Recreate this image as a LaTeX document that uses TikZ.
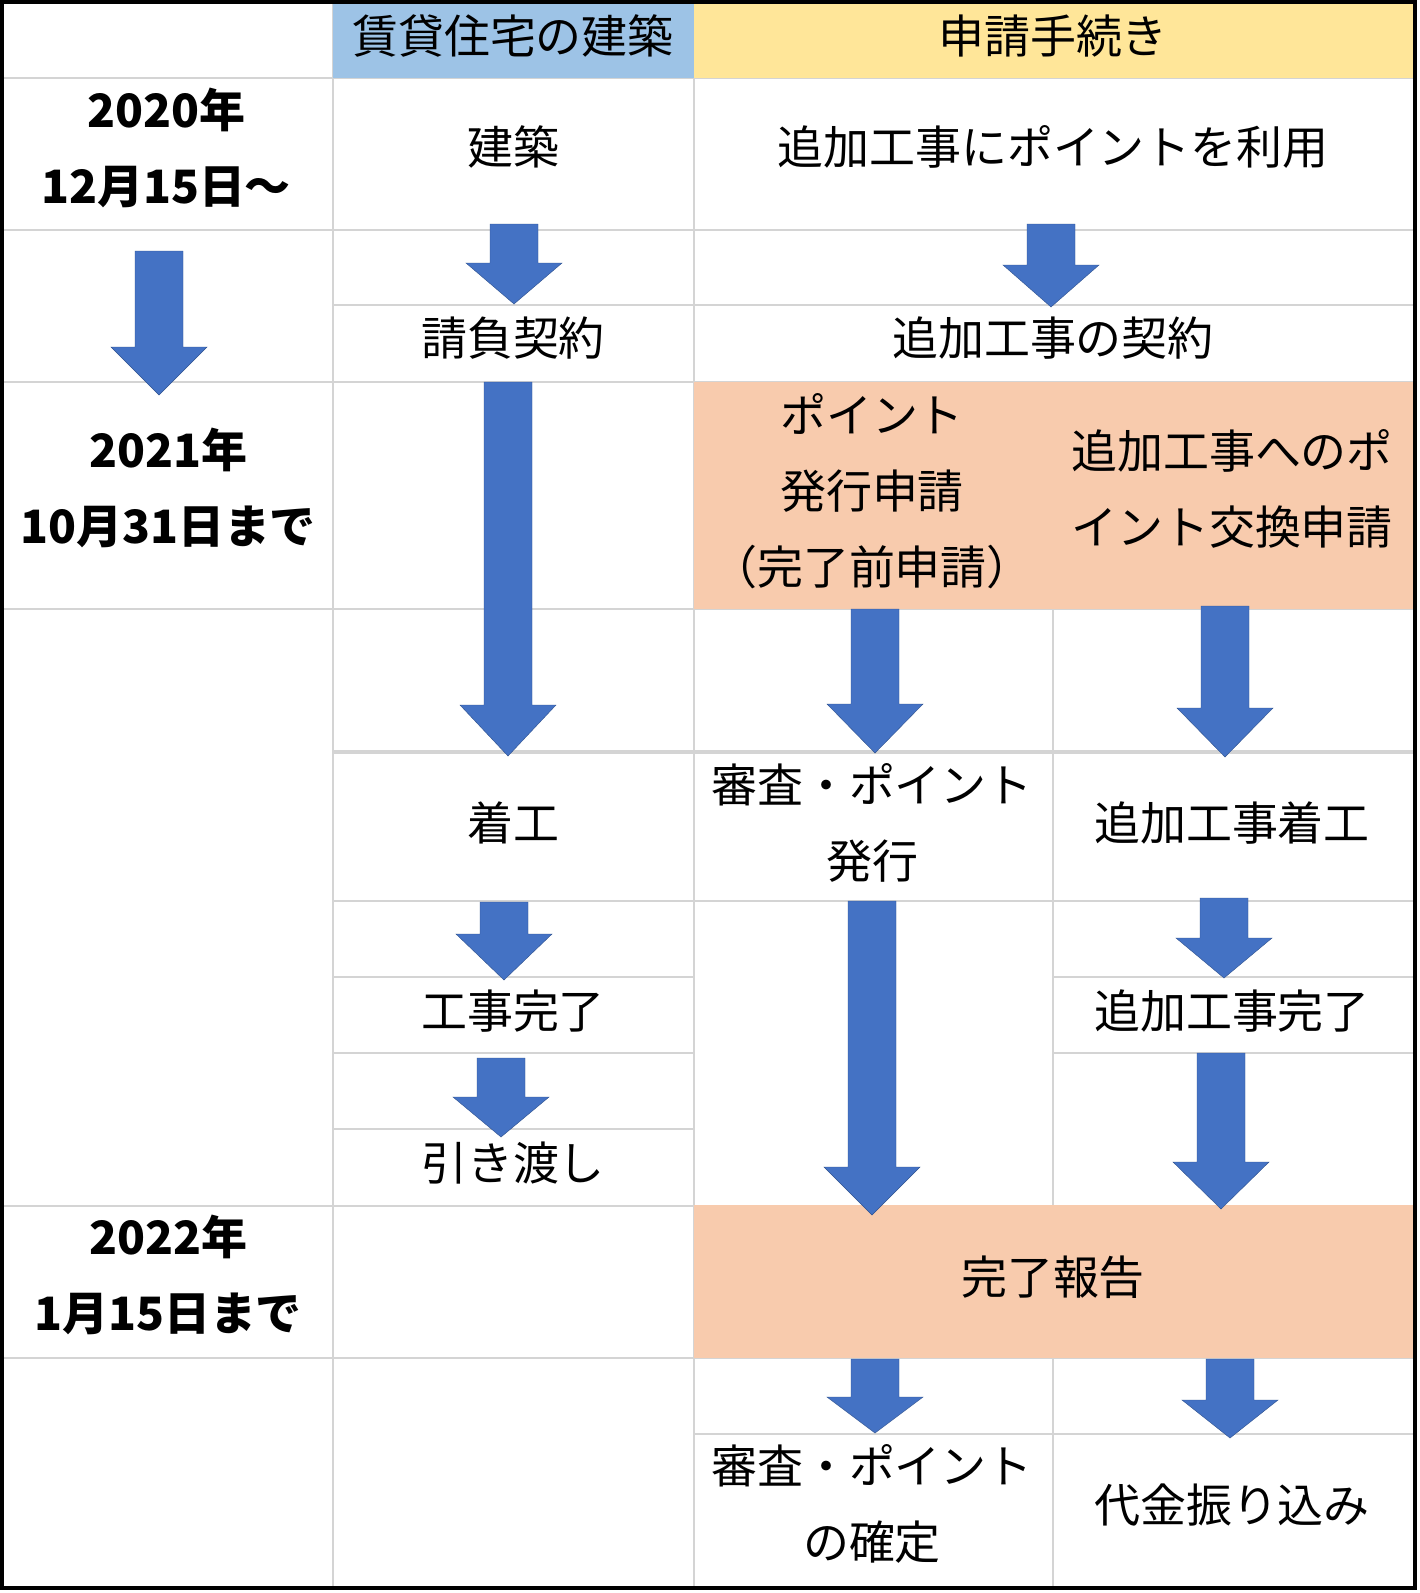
\documentclass[tikz,border=0pt]{standalone}
\usepackage{fontspec}
\setmainfont{Noto Sans CJK JP}
\usepackage{xcolor}
\definecolor{hdrblue}{RGB}{157,195,230}
\definecolor{hdryellow}{RGB}{255,230,153}
\definecolor{stepfill}{RGB}{248,203,173}
\definecolor{arrowblue}{RGB}{68,114,196}
\definecolor{arrowedge}{RGB}{47,82,143}
\definecolor{gridgray}{RGB}{212,212,212}
% block arrow pointing down: centre x, top, start of head, tip
\newcommand{\downblock}[4]{%
  \filldraw[fill=arrowblue, draw=arrowedge, line width=0.3pt]
    (#1-24,#2) -- (#1+24,#2) -- (#1+24,#3) -- (#1+48,#3) -- (#1,#4)
    -- (#1-48,#3) -- (#1-24,#3) -- cycle;}

\begin{document}
\begin{tikzpicture}[
  x=0.025cm, y=-0.025cm,
  cell/.style={align=center, inner sep=0pt, font=\fontsize{32.7}{54}\selectfont},
  head/.style={cell},
  date/.style={align=center, inner sep=0pt, font=\fontsize{32.7}{54}\selectfont\bfseries},
  gridline/.style={draw=gridgray, line width=0.06cm}
]
\fill[white] (0,0) rectangle (1420,1593);
\useasboundingbox (0,0) rectangle (1420,1593);

% table grid
\foreach \y in {78,230,382,609,1206,1358}
  \draw[gridline] (2,\y) -- (1414,\y);
\draw[gridline] (333,305) -- (1414,305);
\draw[gridline, line width=0.09cm] (333,752) -- (1414,752);
\draw[gridline] (333,901) -- (1414,901);
\draw[gridline] (333,977) -- (694,977) (1053,977) -- (1414,977);
\draw[gridline] (333,1053) -- (694,1053) (1053,1053) -- (1414,1053);
\draw[gridline] (333,1129) -- (694,1129);
\draw[gridline] (694,1434) -- (1414,1434);
\draw[gridline] (333,2) -- (333,1588);
\draw[gridline] (694,2) -- (694,1588);
\draw[gridline] (1053,609) -- (1053,1206) (1053,1358) -- (1053,1588);

% coloured cells
\fill[hdrblue] (333,2) rectangle (694,78);
\fill[hdryellow] (694,2) rectangle (1414,78);
\fill[stepfill] (694,382) rectangle (1414,609);
\fill[stepfill] (694,1205) rectangle (1414,1358);

% block arrows
\downblock{159}{251}{347}{395}
\downblock{514}{224}{263}{304}
\downblock{1051}{224}{265}{307}
\downblock{508}{382}{705}{756}
\downblock{875}{609}{704}{753}
\downblock{1225}{606}{708}{757}
\downblock{504}{902}{934}{980}
\downblock{501}{1058}{1097}{1137}
\downblock{872}{901}{1167}{1215}
\downblock{1224}{898}{938}{978}
\downblock{1221}{1053}{1162}{1209}
\downblock{875}{1359}{1397}{1433}
\downblock{1230}{1359}{1400}{1438}

% headers
\node[head] (hdrbuild) at (513,36) {賃貸住宅の建築};
\node[head] (hdrapply) at (1053,36) {申請手続き};

% deadlines
\node[date] (d2020) at (166,148) {2020年\\12月15日～};
\node[date] (d2021) at (168,488) {2021年\\10月31日まで};
\node[date] (d2022) at (168,1275) {2022年\\1月15日まで};

% construction column
\node[cell] (build) at (513,147) {建築};
\node[cell] (contract) at (513,338) {請負契約};
\node[cell] (start) at (513,823) {着工};
\node[cell] (finish) at (513,1011) {工事完了};
\node[cell] (handover) at (513,1163) {引き渡し};

% application columns
\node[cell] (usept) at (1053,147) {追加工事にポイントを利用};
\node[cell] (addcontract) at (1053,338) {追加工事の契約};
\node[cell] (issueapp) at (872,491) {ポイント\\発行申請\\（完了前申請）};
\node[cell] (exchapp) at (1232,489) {追加工事へのポ\\イント交換申請};
\node[cell] (review1) at (872,823) {審査・ポイント\\発行};
\node[cell] (addstart) at (1232,823) {追加工事着工};
\node[cell] (addfinish) at (1232,1011) {追加工事完了};
\node[cell] (report) at (1053,1277) {完了報告};
\node[cell] (review2) at (872,1504) {審査・ポイント\\の確定};
\node[cell] (payment) at (1232,1505) {代金振り込み};

% outer frame
\draw[black, line width=0.1cm] (2,2) rectangle (1415,1588);
\end{tikzpicture}
\end{document}
